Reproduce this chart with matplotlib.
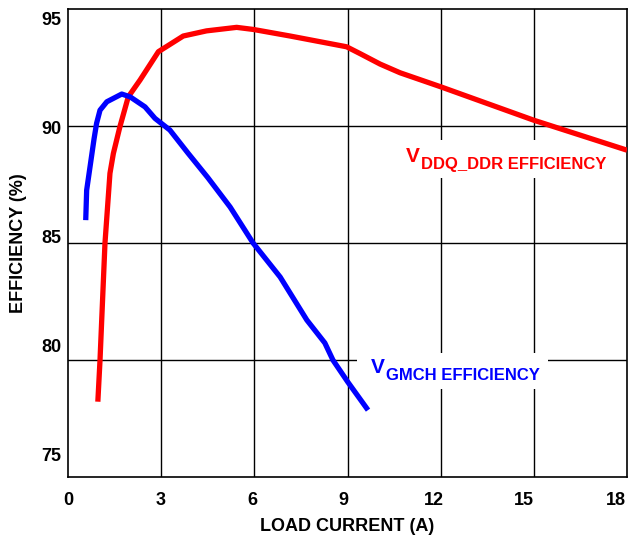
import matplotlib
matplotlib.use("Agg")
import matplotlib.pyplot as plt
from matplotlib.transforms import offset_copy
from matplotlib.patches import Rectangle

plt.rcParams['font.family'] = ['Liberation Sans', 'DejaVu Sans']
plt.rcParams['font.weight'] = 'bold'

# Data
ddr_x = [0.96, 1.03, 1.19, 1.35, 1.46, 1.67, 1.94, 2.32, 2.91, 3.71, 4.46, 5.43, 5.97,
         7.15, 8.97, 9.40, 10.05, 10.69, 12.0, 15.0, 18.0]
ddr_y = [78.22, 80.0, 85.0, 87.98, 88.83, 89.97, 91.25, 91.97, 93.18, 93.85, 94.07, 94.22, 94.13,
         93.85, 93.39, 93.10, 92.65, 92.28, 91.68, 90.25, 88.97]

gmch_x = [0.57, 0.60, 0.84, 0.92, 1.03, 1.25, 1.73, 2.00, 2.48, 2.80, 3.28, 3.86,
          4.50, 5.22, 5.96, 6.83, 7.69, 8.27, 8.53, 9.01, 9.66]
gmch_y = [85.98, 87.26, 89.47, 90.12, 90.68, 91.04, 91.37, 91.25, 90.82, 90.33, 89.83, 88.85,
          87.80, 86.54, 85.0, 83.55, 81.71, 80.73, 80.0, 79.06, 77.86]

x_ticks = [0, 3, 6, 9, 12, 15, 18]
y_ticks = [95, 90, 85, 80, 75]
x_grid = [3, 6, 9, 12, 15]
y_grid = [80, 85, 90]
# tick label positions (the reference labels are slightly offset from the grid)
x_label_pos = [0, 2.99, 5.93, 8.86, 11.78, 14.69, 17.65]
y_label_pos = [94.62, 89.96, 85.30, 80.64, 75.98]

fig = plt.figure(figsize=(6.34, 5.36), dpi=100)
ax = fig.add_axes([0.1073, 0.110, 0.8817, 0.873])
ax.set_xlim(0, 18)
ax.set_ylim(75, 95)

for gx in x_grid:
    ax.axvline(gx, color='black', lw=1.0, zorder=1)
for gy in y_grid:
    ax.axhline(gy, color='black', lw=1.0, zorder=1)

ax.plot(ddr_x, ddr_y, color='#ff0000', lw=3.8, solid_capstyle='butt',
        solid_joinstyle='round', zorder=3)
ax.plot(gmch_x, gmch_y, color='#0000ff', lw=3.8, solid_capstyle='butt',
        solid_joinstyle='round', zorder=3)

ax.set_xticks(x_label_pos, [str(v) for v in x_ticks])
ax.set_yticks(y_label_pos, [str(v) for v in y_ticks])
ax.tick_params(axis='both', length=0, labelsize=13)
ax.tick_params(axis='x', pad=11)
ax.tick_params(axis='y', pad=5)
for lab in ax.get_xticklabels() + ax.get_yticklabels():
    lab.set_fontweight('bold')

for s in ax.spines.values():
    s.set_linewidth(1.2)

ax.set_xlabel('LOAD CURRENT (A)', fontsize=13, fontweight='bold', labelpad=6)
ax.set_ylabel('EFFICIENCY (%)', fontsize=13, fontweight='bold', labelpad=10)


def pxbox(x0, y0, x1, y1):
    def tx(px):
        return (px - 68) / (627 - 68) * 18

    def ty(py):
        return 95 - (py - 9) / (477 - 9) * 20
    ax.add_patch(Rectangle((tx(x0), ty(y1)), tx(x1) - tx(x0), ty(y0) - ty(y1),
                           facecolor='white', edgecolor='none', zorder=2))


pxbox(400, 140, 612, 178)
pxbox(357, 353, 548, 389)


def label(xd, yd, sub, color):
    ax.text(xd, yd, 'V', color=color, fontsize=15, fontweight='bold',
            ha='left', va='baseline', zorder=4)
    tr = offset_copy(ax.transData, fig=fig, x=11, y=-5, units='points')
    ax.text(xd, yd, sub, color=color, fontsize=12, fontweight='bold',
            ha='left', va='baseline', transform=tr, zorder=4)


label((406 - 68) / 31.06, 95 - (162 - 9) / 23.4, 'DDQ_DDR EFFICIENCY', '#ff0000')
label((371 - 68) / 31.06, 95 - (373 - 9) / 23.4, 'GMCH EFFICIENCY', '#0000ff')

fig.savefig('out.png', dpi=100)
